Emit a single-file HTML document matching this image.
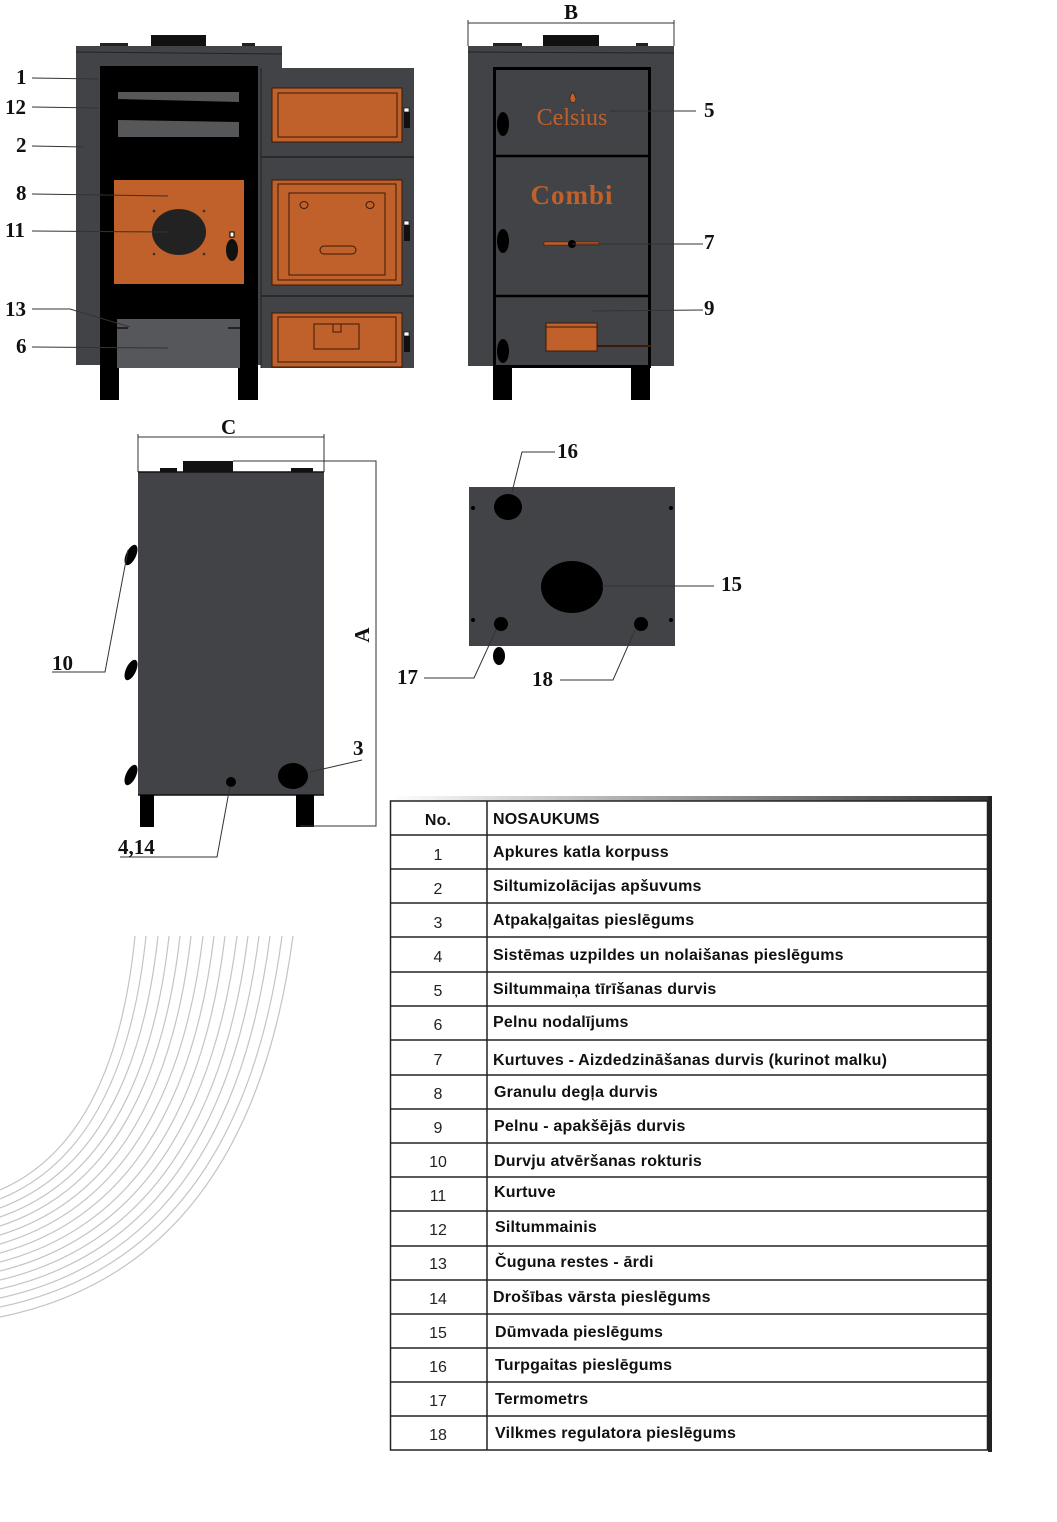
<!DOCTYPE html>
<html><head><meta charset="utf-8"><style>
html,body{margin:0;padding:0;background:#fff;width:1057px;height:1522px;overflow:hidden}
svg{display:block}
.lb{font-family:"Liberation Serif",serif;font-weight:bold;font-size:21px;fill:#111}
.tn{font-family:"Liberation Sans",sans-serif;font-size:16px;fill:#222}
.tt{font-family:"Liberation Sans",sans-serif;font-weight:bold;font-size:16px;letter-spacing:0.2px;fill:#111}
</style></head><body>
<svg width="1057" height="1522" viewBox="0 0 1057 1522" xmlns="http://www.w3.org/2000/svg">
<defs><linearGradient id="g" x1="0" x2="1"><stop offset="0" stop-color="#fff"/><stop offset="1" stop-color="#333"/></linearGradient></defs>
<g fill="none" stroke="#c4c4c4" stroke-width="1.2">
<path d="M135 936 Q115 1140 0 1190"/><path d="M146 936 Q124 1149 0 1199"/><path d="M158 936 Q134 1158 0 1208"/><path d="M169 936 Q144 1167 0 1217"/><path d="M180 936 Q153 1176 0 1226"/><path d="M191 936 Q163 1185 0 1235"/><path d="M203 936 Q172 1194 0 1244"/><path d="M214 936 Q182 1203 0 1253"/><path d="M225 936 Q192 1212 0 1262"/><path d="M237 936 Q201 1221 0 1271"/><path d="M248 936 Q211 1230 0 1280"/><path d="M259 936 Q220 1239 0 1289"/><path d="M270 936 Q230 1248 0 1298"/><path d="M282 936 Q240 1257 0 1307"/><path d="M293 936 Q249 1267 0 1317"/>
</g>

<rect x="151" y="35" width="55" height="11" fill="#111"/>
<rect x="100" y="43" width="28" height="3" fill="#222"/><rect x="242" y="43" width="13" height="3" fill="#222"/>
<rect x="76" y="46" width="206" height="319" fill="#414346"/>
<line x1="76" y1="52" x2="282" y2="54" stroke="#222" stroke-width="1"/>
<rect x="100" y="66" width="158" height="300" fill="#000"/>
<rect x="100" y="365" width="19" height="35" fill="#000"/><rect x="238" y="365" width="20" height="35" fill="#000"/>
<polygon points="118,92 239,92 239,102 118,99" fill="#555759"/>
<polygon points="118,120 239,122 239,137 118,137" fill="#555759"/>
<rect x="114" y="180" width="130" height="104" fill="#c0602a"/>
<ellipse cx="179" cy="232" rx="27" ry="23" fill="#222"/>
<circle cx="154" cy="211" r="1.3" fill="#333"/><circle cx="204" cy="211" r="1.3" fill="#333"/><circle cx="154" cy="254" r="1.3" fill="#333"/><circle cx="204" cy="254" r="1.3" fill="#333"/>
<rect x="230" y="232" width="4" height="5" fill="#fff" stroke="#000"/><ellipse cx="232" cy="250" rx="6" ry="11" fill="#111"/>
<rect x="117" y="319" width="123" height="49" fill="#55575a"/>
<line x1="117" y1="328" x2="128" y2="328" stroke="#111" stroke-width="1.5"/><line x1="228" y1="328" x2="240" y2="328" stroke="#111" stroke-width="1.5"/>
<rect x="261" y="68" width="153" height="300" fill="#414346"/>
<line x1="261" y1="157" x2="414" y2="157" stroke="#222" stroke-width="1.5"/>
<line x1="261" y1="296" x2="414" y2="296" stroke="#222" stroke-width="1.5"/>
<line x1="261" y1="68" x2="261" y2="368" stroke="#222"/>
<rect x="272" y="88" width="130" height="54" fill="#c0602a" stroke="#3a1a08" stroke-width="1"/>
<rect x="278" y="93" width="119" height="44" fill="none" stroke="#3a1a08" stroke-width="1"/>
<rect x="272" y="180" width="130" height="105" fill="#c0602a" stroke="#3a1a08" stroke-width="1"/>
<rect x="278" y="184" width="118" height="96" fill="none" stroke="#3a1a08" stroke-width="1"/>
<rect x="289" y="193" width="96" height="82" fill="none" stroke="#3a1a08" stroke-width="1"/>
<ellipse cx="304" cy="205" rx="4" ry="3.5" fill="none" stroke="#3a1a08"/><ellipse cx="370" cy="205" rx="4" ry="3.5" fill="none" stroke="#3a1a08"/>
<rect x="320" y="246" width="36" height="8" rx="4" fill="none" stroke="#3a1a08"/>
<rect x="272" y="313" width="130" height="54" fill="#c0602a" stroke="#3a1a08" stroke-width="1"/>
<rect x="278" y="317" width="118" height="45" fill="none" stroke="#3a1a08" stroke-width="1"/>
<path d="M314 324 H359 V349 H314 Z M333 324 V332 H341 V324" fill="none" stroke="#3a1a08"/>
<g fill="#111"><rect x="404" y="112" width="6" height="16"/><rect x="404" y="225" width="6" height="16"/><rect x="404" y="336" width="6" height="16"/></g>
<g fill="#fff" stroke="#111" stroke-width=".7"><rect x="404" y="108" width="5" height="4"/><rect x="404" y="221" width="5" height="4"/><rect x="404" y="332" width="5" height="4"/></g>
<g stroke="#333" stroke-width="1" fill="none">
<line x1="32" y1="78" x2="99" y2="79"/><line x1="32" y1="107" x2="99" y2="108"/><line x1="32" y1="146" x2="84" y2="147"/>
<line x1="32" y1="194" x2="168" y2="196"/><line x1="32" y1="231" x2="168" y2="232"/>
<polyline points="32,309 70,309 130,327"/><line x1="32" y1="347" x2="168" y2="348"/>
</g>
<text class="lb" x="16" y="84">1</text><text class="lb" x="5" y="114">12</text><text class="lb" x="16" y="152">2</text>
<text class="lb" x="16" y="200">8</text><text class="lb" x="5" y="237">11</text><text class="lb" x="5" y="316">13</text><text class="lb" x="16" y="353">6</text>

<line x1="468" y1="23" x2="674" y2="23" stroke="#333"/><line x1="468" y1="20" x2="468" y2="46" stroke="#333"/><line x1="674" y1="20" x2="674" y2="46" stroke="#333"/>
<text class="lb" x="564" y="19">B</text>
<rect x="543" y="35" width="56" height="11" fill="#111"/>
<rect x="493" y="43" width="29" height="3" fill="#222"/><rect x="636" y="43" width="12" height="3" fill="#222"/>
<rect x="468" y="46" width="206" height="320" fill="#414346"/>
<line x1="468" y1="52" x2="674" y2="53" stroke="#222"/>
<rect x="494.5" y="68.5" width="155" height="298" fill="none" stroke="#000" stroke-width="3"/>
<line x1="494" y1="156" x2="650" y2="156" stroke="#000" stroke-width="2.5"/>
<line x1="494" y1="296" x2="650" y2="296" stroke="#000" stroke-width="2.5"/>
<rect x="493" y="366" width="19" height="34" fill="#000"/><rect x="631" y="366" width="19" height="34" fill="#000"/>
<text x="572" y="125" text-anchor="middle" font-family="Liberation Serif,serif" font-size="24" fill="#c0602a">Celsius</text>
<path d="M573 92 q-5 5 -2 10 q4 2 5 -3 q-1 -3 -3 -7z" fill="#c0602a" stroke="#222" stroke-width=".6"/>
<text x="572" y="204" text-anchor="middle" font-family="Liberation Serif,serif" font-weight="bold" font-size="27" fill="#c0602a" letter-spacing="1">Combi</text>
<g fill="#000"><ellipse cx="503" cy="124" rx="6" ry="12"/><ellipse cx="503" cy="241" rx="6" ry="12"/><ellipse cx="503" cy="351" rx="6" ry="12"/></g>
<rect x="544" y="242" width="55" height="3" fill="#c0602a" stroke="#3a1a08" stroke-width=".5"/><circle cx="572" cy="244" r="4" fill="#000"/>
<rect x="546" y="323" width="51" height="28" fill="#c0602a" stroke="#3a1a08"/><line x1="546" y1="327" x2="597" y2="327" stroke="#3a1a08"/>
<line x1="597" y1="346" x2="651" y2="346" stroke="#3a1a08" stroke-width="2"/>
<g stroke="#333"><line x1="610" y1="111" x2="696" y2="111"/><line x1="572" y1="244" x2="703" y2="244"/><line x1="592" y1="311" x2="703" y2="310"/></g>
<text class="lb" x="704" y="117">5</text><text class="lb" x="704" y="249">7</text><text class="lb" x="704" y="315">9</text>

<line x1="138" y1="437" x2="324" y2="437" stroke="#333"/><line x1="138" y1="434" x2="138" y2="472" stroke="#333"/><line x1="324" y1="434" x2="324" y2="472" stroke="#333"/>
<text class="lb" x="221" y="434">C</text>
<rect x="183" y="461" width="50" height="11" fill="#111"/>
<rect x="160" y="468" width="17" height="4" fill="#111"/><rect x="291" y="468" width="22" height="4" fill="#111"/>
<rect x="138" y="472" width="186" height="323" fill="#414346"/>
<line x1="138" y1="472" x2="324" y2="472" stroke="#111" stroke-width="1.5"/>
<line x1="138" y1="795" x2="324" y2="795" stroke="#111" stroke-width="1.5"/>
<rect x="140" y="795" width="14" height="32" fill="#000"/><rect x="296" y="795" width="18" height="32" fill="#000"/>
<polyline points="233,461 376,461 376,826 300,826" fill="none" stroke="#333"/>
<text class="lb" transform="translate(369,635) rotate(-90)" text-anchor="middle">A</text>
<g fill="#000"><ellipse cx="131" cy="555" rx="5" ry="11" transform="rotate(25 131 555)"/><ellipse cx="131" cy="670" rx="5" ry="11" transform="rotate(25 131 670)"/><ellipse cx="131" cy="775" rx="5" ry="11" transform="rotate(25 131 775)"/></g>
<ellipse cx="293" cy="776" rx="15" ry="13" fill="#000"/><circle cx="231" cy="782" r="5" fill="#000"/>
<g stroke="#333" fill="none"><polyline points="52,672 105,672 128,550"/><line x1="310" y1="772" x2="362" y2="760"/><polyline points="120,857 217,857 230,786"/></g>
<text class="lb" x="52" y="670">10</text><text class="lb" x="353" y="755">3</text><text class="lb" x="118" y="854">4,14</text>

<rect x="469" y="487" width="206" height="159" fill="#414346"/>
<ellipse cx="508" cy="507" rx="14" ry="13" fill="#000"/>
<ellipse cx="572" cy="587" rx="31" ry="26" fill="#000"/>
<circle cx="501" cy="624" r="7" fill="#000"/><circle cx="641" cy="624" r="7" fill="#000"/>
<ellipse cx="499" cy="656" rx="6" ry="9" fill="#000"/>
<g fill="#000"><circle cx="473" cy="508" r="2"/><circle cx="671" cy="508" r="2"/><circle cx="473" cy="620" r="2"/><circle cx="671" cy="620" r="2"/></g>
<g stroke="#333" fill="none"><polyline points="555,452 522,452 512,492"/><line x1="602" y1="586" x2="714" y2="586"/><polyline points="424,678 474,678 496,630"/><polyline points="560,680 613,680 635,630"/></g>
<text class="lb" x="557" y="458">16</text><text class="lb" x="721" y="591">15</text><text class="lb" x="397" y="684">17</text><text class="lb" x="532" y="686">18</text>

<rect x="390" y="796" width="602" height="5" fill="url(#g)"/>
<rect x="988" y="796" width="4" height="656" fill="#222"/>
<rect x="390.5" y="801" width="597" height="649" fill="none" stroke="#222" stroke-width="1.5"/>
<line x1="487" y1="801" x2="487" y2="1450" stroke="#222" stroke-width="1.5"/>
<g stroke="#222" stroke-width="1.5">
<line x1="390" y1="835" x2="988" y2="835"/><line x1="390" y1="869" x2="988" y2="869"/><line x1="390" y1="903" x2="988" y2="903"/><line x1="390" y1="937" x2="988" y2="937"/><line x1="390" y1="972" x2="988" y2="972"/><line x1="390" y1="1006" x2="988" y2="1006"/><line x1="390" y1="1040" x2="988" y2="1040"/><line x1="390" y1="1075" x2="988" y2="1075"/><line x1="390" y1="1109" x2="988" y2="1109"/><line x1="390" y1="1143" x2="988" y2="1143"/><line x1="390" y1="1177" x2="988" y2="1177"/><line x1="390" y1="1211" x2="988" y2="1211"/><line x1="390" y1="1246" x2="988" y2="1246"/><line x1="390" y1="1280" x2="988" y2="1280"/><line x1="390" y1="1314" x2="988" y2="1314"/><line x1="390" y1="1348" x2="988" y2="1348"/><line x1="390" y1="1382" x2="988" y2="1382"/><line x1="390" y1="1416" x2="988" y2="1416"/>
</g>
<text class="tt" x="438" y="825" text-anchor="middle" font-size="17">No.</text><text class="tt" x="493" y="824">NOSAUKUMS</text>
<g class="tn" text-anchor="middle">
<text x="438" y="860">1</text><text x="438" y="894">2</text><text x="438" y="928">3</text><text x="438" y="962">4</text><text x="438" y="996">5</text><text x="438" y="1030">6</text><text x="438" y="1065">7</text><text x="438" y="1099">8</text><text x="438" y="1133">9</text><text x="438" y="1167">10</text><text x="438" y="1201">11</text><text x="438" y="1235">12</text><text x="438" y="1269">13</text><text x="438" y="1304">14</text><text x="438" y="1338">15</text><text x="438" y="1372">16</text><text x="438" y="1406">17</text><text x="438" y="1440">18</text>
</g>
<g class="tt">
<text x="493" y="857">Apkures katla korpuss</text>
<text x="493" y="891">Siltumizolācijas apšuvums</text>
<text x="493" y="925">Atpakaļgaitas pieslēgums</text>
<text x="493" y="960">Sistēmas uzpildes un nolaišanas pieslēgums</text>
<text x="493" y="994">Siltummaiņa tīrīšanas durvis</text>
<text x="493" y="1027">Pelnu nodalījums</text>
<text x="493" y="1065">Kurtuves - Aizdedzināšanas durvis (kurinot malku)</text>
<text x="494" y="1097">Granulu degļa durvis</text>
<text x="494" y="1131">Pelnu  - apakšējās durvis</text>
<text x="494" y="1166">Durvju atvēršanas rokturis</text>
<text x="494" y="1197">Kurtuve</text>
<text x="495" y="1232">Siltummainis</text>
<text x="495" y="1267">Čuguna restes - ārdi</text>
<text x="493" y="1302">Drošības vārsta pieslēgums</text>
<text x="495" y="1337">Dūmvada pieslēgums</text>
<text x="495" y="1370">Turpgaitas pieslēgums</text>
<text x="495" y="1404">Termometrs</text>
<text x="495" y="1438">Vilkmes regulatora pieslēgums</text>
</g>
</svg>
</body></html>
